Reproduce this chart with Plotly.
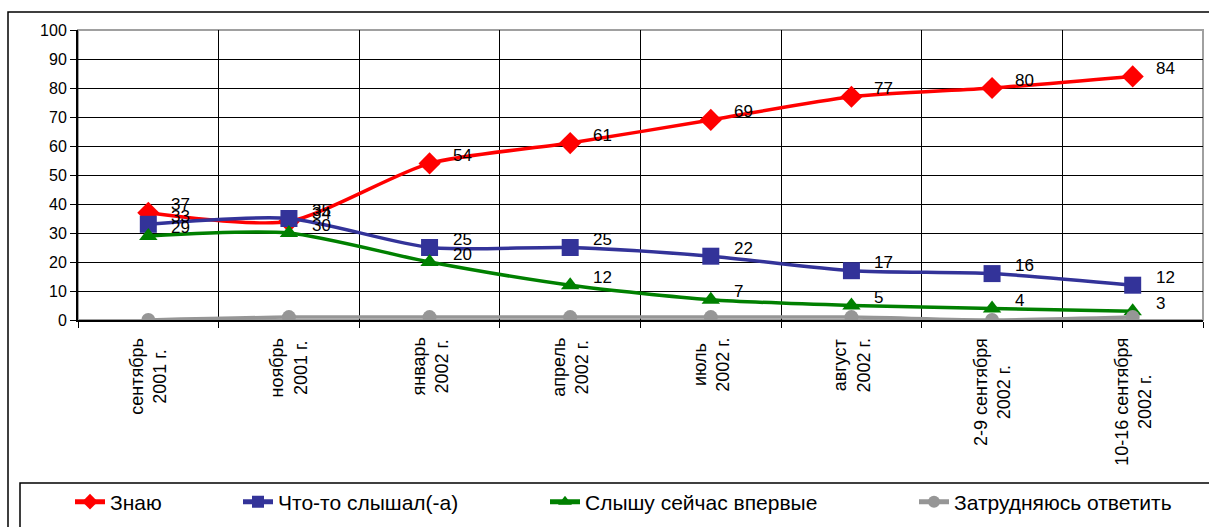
import plotly.graph_objects as go

# Survey waves (x categories) and series values, %
periods = [
    "сентябрь<br>2001 г.",
    "ноябрь<br>2001 г.",
    "январь<br>2002 г.",
    "апрель<br>2002 г.",
    "июль<br>2002 г.",
    "август<br>2002 г.",
    "2-9 сентября<br>2002 г.",
    "10-16 сентября<br>2002 г.",
]
know = [37, 34, 54, 61, 69, 77, 80, 84]
heard_something = [33, 35, 25, 25, 22, 17, 16, 12]
hear_first_time = [29, 30, 20, 12, 7, 5, 4, 3]
hard_to_say = [0, 1, 1, 1, 1, 1, 0, 1]

y_ticks = list(range(0, 101, 10))

# plot-area geometry in pixels (used to convert to paper coordinates)
L, R, T, B = 78, 1203, 30, 320
W, H = 1209, 527


def px_x(px):
    return (px - L) / (R - L)


def px_y(py):
    return (B - py) / (B - T)


series = [
    # name, values, colour, symbol, marker size, labelled, legend id, legend text x (px)
    ("Знаю", know, "#FF0000", "diamond", 17, True, "legend", 112),
    ("Что-то слышал(-а)", heard_something, "#333399", "square", 17, True, "legend2", 280),
    ("Слышу сейчас впервые", hear_first_time, "#008000", "triangle-up", 16, True, "legend3", 587),
    ("Затрудняюсь ответить", hard_to_say, "#969696", "circle", 14, False, "legend4", 956),
]

fig = go.Figure()
annotations = []
legends = {}
for name, vals, color, symbol, size, labelled, leg, text_x in series:
    fig.add_trace(go.Scatter(
        x=periods, y=vals, name=name, mode="lines+markers", legend=leg,
        line=dict(color=color, width=3.5, shape="spline", smoothing=0.7),
        marker=dict(symbol=symbol, size=size, color=color),
    ))
    legends[leg] = dict(
        x=px_x(text_x - 42), xanchor="left", y=px_y(502), yanchor="middle",
        font=dict(family="Arial, Liberation Sans", size=21, color="#000000"),
        bgcolor="rgba(0,0,0,0)", borderwidth=0, itemsizing="constant",
    )
    if labelled:
        for p, v in zip(periods, vals):
            annotations.append(dict(
                x=p, y=v, text=str(v), showarrow=False,
                xanchor="left", yanchor="middle", xshift=21, yshift=8,
                font=dict(family="Arial, Liberation Sans", size=17, color="#000000"),
            ))

# rotated category labels under the axis
for p in periods:
    annotations.append(dict(
        x=p, xref="x", y=0, yref="paper", text=p, showarrow=False,
        textangle=-90, xanchor="center", yanchor="top", yshift=-16,
        align="center",
        font=dict(family="Arial, Liberation Sans", size=18, color="#000000"),
    ))

# outer chart frame, legend frame and plot-area border
shapes = [
    dict(type="rect", xref="paper", yref="paper", x0=px_x(8), x1=px_x(1240),
         y0=px_y(560), y1=px_y(12), line=dict(color="#000000", width=1.5)),
    dict(type="rect", xref="paper", yref="paper", x0=px_x(20), x1=px_x(1240),
         y0=px_y(560), y1=px_y(483), line=dict(color="#000000", width=1.5)),
    dict(type="rect", xref="paper", yref="paper", x0=0, x1=1, y0=0, y1=1,
         line=dict(color="#A0A0A0", width=2), layer="below"),
]

fig.update_layout(
    width=W, height=H,
    margin=dict(l=L, r=W - R, t=T, b=H - B, autoexpand=False),
    paper_bgcolor="#FFFFFF", plot_bgcolor="#FFFFFF",
    font=dict(family="Arial, Liberation Sans", color="#000000"),
    showlegend=True,
    annotations=annotations,
    shapes=shapes,
    xaxis=dict(
        type="category", tickson="boundaries", showticklabels=False,
        showgrid=True, gridcolor="#000000", gridwidth=1,
        ticks="outside", ticklen=6, tickcolor="#000000",
        showline=True, linecolor="#000000", linewidth=2,
        range=[-0.5, 7.5], automargin=False,
    ),
    yaxis=dict(
        range=[0, 100], tickvals=y_ticks, ticktext=[str(t) for t in y_ticks],
        showgrid=True, gridcolor="#000000", gridwidth=1,
        ticks="outside", ticklen=6, tickcolor="#000000",
        showline=True, linecolor="#000000", linewidth=2,
        tickfont=dict(family="Arial, Liberation Sans", size=16),
        zeroline=False, automargin=False,
    ),
    **legends,
)

fig.write_html("out.html")
